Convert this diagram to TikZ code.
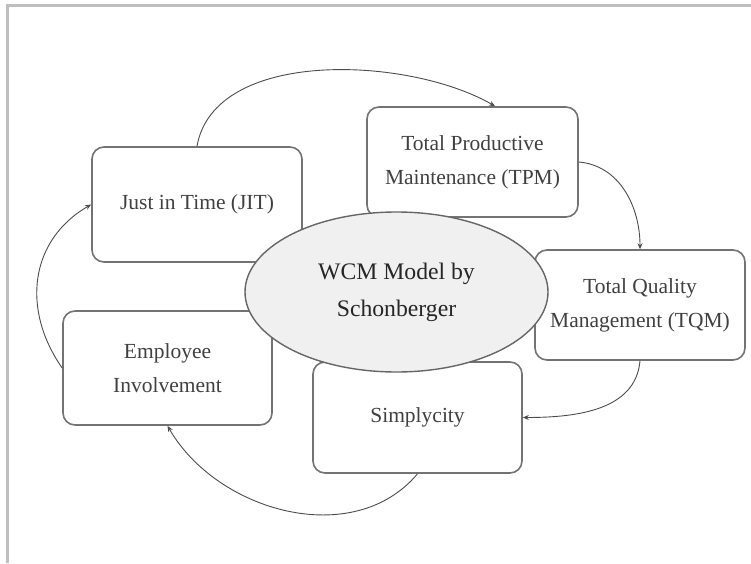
\documentclass[tikz,border=0pt]{standalone}
\usepackage{fontspec}
\setmainfont{Liberation Serif}
\usetikzlibrary{shapes.geometric,arrows.meta}
\begin{document}
\begin{tikzpicture}[x=1pt,y=1pt,>={Stealth[length=6pt,width=5pt]}]
    \tikzstyle{factor}=[draw=black!55,line width=1.6pt,rounded corners=12pt,fill=white,text=black!75,align=center,inner sep=0pt,font=\fontsize{21.5}{34}\selectfont]
    \tikzstyle{model}=[draw=black!60,line width=1.4pt,ellipse,fill=black!6,text=black!85,align=center,inner sep=0pt,minimum width=303pt,minimum height=160pt,font=\fontsize{23.7}{37}\selectfont]
    \tikzstyle{link}=[draw=black!70,line width=0.9pt]

    \useasboundingbox (0,0) rectangle (751,563);
    \draw[black!25,line width=3pt] (7,0) -- (7,557) -- (751,557);

    \node[factor,minimum width=210pt,minimum height=115pt] at (197,358.5) (jit) {Just in Time (JIT)};
    \node[factor,minimum width=211pt,minimum height=110pt] at (472.5,401) (tpm) {Total Productive\\Maintenance (TPM)};
    \node[factor,minimum width=210pt,minimum height=110pt] at (640,258) (tqm) {Total Quality\\Management (TQM)};
    \node[factor,minimum width=209pt,minimum height=111pt] at (417.5,145.5) (simp) {Simplycity};
    \node[factor,minimum width=209pt,minimum height=114pt] at (167.5,195) (emp) {Employee\\Involvement};
    \node[model] at (396.5,271) (wcm) {WCM Model by\\Schonberger};

    \draw (jit.north) edge [link, ->, out=80, in=150, looseness=0.85] (tpm.68);
    \draw (tpm.east) edge [link, ->, out=-5, in=90] (tqm.north);
    \draw (tqm.south) edge [link, ->, out=-95, in=0] (simp.east);
    \draw (simp.south) edge [link, ->, out=-130, in=-60] (emp.south);
    \draw (emp.west) edge [link, ->, out=125, in=210, looseness=1.1] (jit.west);
\end{tikzpicture}
\end{document}
